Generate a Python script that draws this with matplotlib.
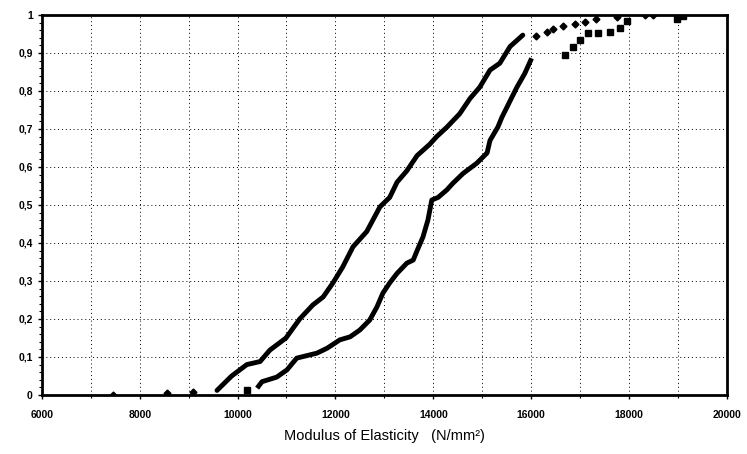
import numpy as np
import matplotlib
matplotlib.use("Agg")
from matplotlib import pyplot as plt
from matplotlib.ticker import MultipleLocator, FuncFormatter

plt.rcParams['font.family'] = ['Liberation Sans', 'DejaVu Sans']

# series A: lower-modulus sample (dense part drawn as a thick line)
a_sparse_x = [7450, 8550, 9090]
a_sparse_y = [0.0, 0.005, 0.008]
a_x = [9580, 9880, 10190, 10460, 10660, 10990, 11270, 11540, 11750, 11950,
       12150, 12360, 12640, 12910, 13110, 13260, 13460, 13670, 13930, 14070,
       14280, 14540, 14750, 14950, 15160, 15360, 15570, 15830]
a_y = [0.012, 0.05, 0.08, 0.088, 0.118, 0.15, 0.2, 0.237, 0.258, 0.295,
       0.337, 0.39, 0.43, 0.495, 0.52, 0.56, 0.59, 0.63, 0.66, 0.68,
       0.705, 0.74, 0.78, 0.81, 0.855, 0.873, 0.917, 0.947]
a_tail_x = [16110, 16320, 16450, 16650, 16890, 17100, 17320, 17750, 18330, 18500]
a_tail_y = [0.945, 0.955, 0.963, 0.97, 0.975, 0.982, 0.99, 0.994, 1.0, 1.0]

# series B: higher-modulus sample
b_sparse_x = [10190]
b_sparse_y = [0.013]
b_x = [10400, 10500, 10800, 11010, 11210, 11620, 11830, 12090, 12300, 12500,
       12700, 12850, 12970, 13110, 13260, 13460, 13590, 13670, 13790, 13890,
       13970, 14100, 14280, 14400, 14610, 14890, 15100, 15160, 15320, 15400,
       15710, 15870, 16010]
b_y = [0.018, 0.035, 0.047, 0.066, 0.097, 0.11, 0.123, 0.145, 0.153, 0.171,
       0.197, 0.232, 0.268, 0.295, 0.32, 0.347, 0.355, 0.38, 0.416, 0.46,
       0.513, 0.52, 0.54, 0.557, 0.583, 0.61, 0.637, 0.67, 0.705, 0.73,
       0.81, 0.846, 0.886]
b_tail_x = [16690, 16850, 17000, 17160, 17360, 17610, 17810, 17950, 18980, 19100]
b_tail_y = [0.895, 0.916, 0.934, 0.952, 0.952, 0.955, 0.965, 0.985, 0.99, 0.997]


def fmt_y(v, pos):
    if abs(v) < 1e-9:
        return '0'
    if abs(v - 1) < 1e-9:
        return '1'
    return f'{v:.1f}'.replace('.', ',')


def main():
    fig = plt.figure(figsize=(7.47, 4.54), dpi=100)
    ax = fig.add_axes([0.056, 0.130, 0.917, 0.837])

    ax.plot(a_x, a_y, color='black', lw=3.5, solid_capstyle='round')
    ax.plot(a_sparse_x + a_tail_x, a_sparse_y + a_tail_y, 'D', color='black',
            ms=3.5, ls='none')
    ax.plot(b_x, b_y, color='black', lw=3.5, solid_capstyle='butt')
    ax.plot(b_sparse_x + b_tail_x, b_sparse_y + b_tail_y, 's', color='black',
            ms=4.5, ls='none')

    ax.set_xlim(6000, 20000)
    ax.set_ylim(0, 1)
    ax.xaxis.set_major_locator(MultipleLocator(2000))
    ax.xaxis.set_minor_locator(MultipleLocator(1000))
    ax.yaxis.set_major_locator(MultipleLocator(0.1))
    ax.yaxis.set_minor_locator(MultipleLocator(0.02))
    ax.yaxis.set_major_formatter(FuncFormatter(fmt_y))

    # dotted grid every 1000 on x and every 0.1 on y
    ax.grid(True, axis='x', which='both', color='black', ls=(0, (1, 3)), lw=0.7)
    ax.grid(True, axis='y', which='major', color='black', ls=(0, (1, 3)), lw=0.7)
    for s in ax.spines.values():
        s.set_linewidth(2.0)

    ax.tick_params(axis='both', which='major', labelsize=7.5, length=3, width=1)
    ax.tick_params(axis='both', which='minor', length=2, width=0.8)
    for lab in ax.get_xticklabels() + ax.get_yticklabels():
        lab.set_fontweight('bold')
    ax.tick_params(axis='x', pad=8)

    ax.set_xlabel('Modulus of Elasticity   (N/mm²)', fontsize=10.5, labelpad=6)

    fig.savefig('out.png', dpi=100)
    return 0


if __name__ == "__main__":
    main()
